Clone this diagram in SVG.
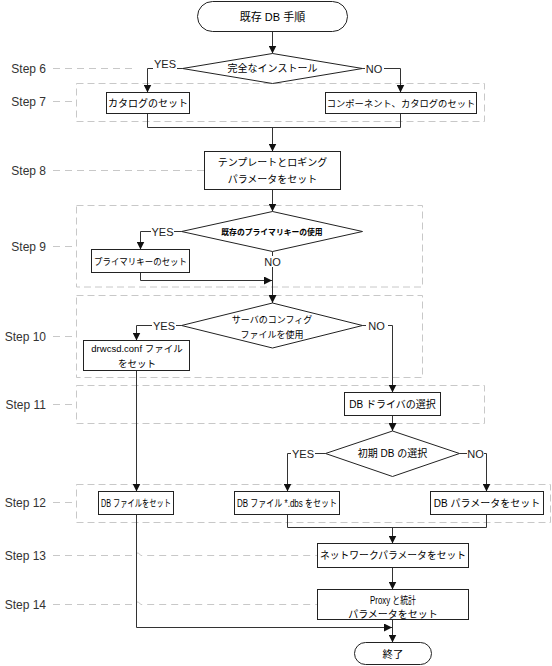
<svg xmlns="http://www.w3.org/2000/svg" width="552" height="666" viewBox="0 0 552 666">
<style>
.lane{fill:none;stroke:#c8c8c8;stroke-width:1;stroke-dasharray:7 4}
.lead{fill:none;stroke:#c8c8c8;stroke-width:1;stroke-dasharray:7 5}
.step{font-family:"Liberation Sans",Arial,sans-serif;font-size:12px;font-weight:normal;fill:#333;text-anchor:end}
.box{fill:#fff;stroke:#222;stroke-width:1}
.t{font-family:"Liberation Sans","Noto Sans CJK JP",sans-serif;font-size:10px;fill:#000;text-anchor:middle}
.c{fill:none;stroke:#333;stroke-width:1}
.lbl{font-family:"Liberation Sans",Arial,sans-serif;font-size:11px;fill:#222;text-anchor:middle}
.bg{fill:#fff;stroke:none}
</style>
<defs>
<marker id="arr" markerUnits="userSpaceOnUse" markerWidth="8" markerHeight="8" refX="8" refY="4" orient="auto">
<path d="M0,0 L8,4 L0,8 z" fill="#111"/>
</marker>
</defs>
<rect width="552" height="666" fill="#fff"/>

<g id="lanes">
<rect class="lane" x="76.5" y="83.5" width="408" height="38"/>
<rect class="lane" x="76.5" y="205.5" width="346" height="81.5"/>
<rect class="lane" x="76.5" y="295.5" width="346" height="82"/>
<rect class="lane" x="76.5" y="385.5" width="408" height="38"/>
<rect class="lane" x="76.5" y="484.5" width="474" height="38"/>
<path class="lead" d="M53,68.5 H133"/>
<path class="lead" d="M53,101.5 H76"/>
<path class="lead" d="M53,170.5 H204"/>
<path class="lead" d="M53,246.5 H76"/>
<path class="lead" d="M53,336.5 H76"/>
<path class="lead" d="M53,404.5 H76"/>
<path class="lead" d="M53,502.5 H76"/>
<path class="lead" d="M53,555.5 H132 Q136.5,550 141,555.5 H317"/>
<path class="lead" d="M53,604.5 H132 Q136.5,599 141,604.5 H317"/>
<text class="step" x="46" y="73">Step 6</text>
<text class="step" x="46" y="106">Step 7</text>
<text class="step" x="46" y="175">Step 8</text>
<text class="step" x="46" y="250.5">Step 9</text>
<text class="step" x="46" y="340.5">Step 10</text>
<text class="step" x="46" y="409">Step 11</text>
<text class="step" x="46" y="506.5">Step 12</text>
<text class="step" x="46" y="559.5">Step 13</text>
<text class="step" x="46" y="608.5">Step 14</text>
</g>

<g id="connectors">
<path class="c" d="M272.5,31.5 V53.5" marker-end="url(#arr)"/>
<path class="c" d="M182.5,68.5 H147.5 V92.5" marker-end="url(#arr)"/>
<path class="c" d="M362.5,68.5 H400.5 V92.5" marker-end="url(#arr)"/>
<path class="c" d="M147.5,113.5 V127.5 H400.5 V113.5"/>
<path class="c" d="M272.5,127.5 V151.5" marker-end="url(#arr)"/>
<path class="c" d="M272.5,189.5 V211.5" marker-end="url(#arr)"/>
<path class="c" d="M181.5,231.5 H140.5 V249.5" marker-end="url(#arr)"/>
<path class="c" d="M140.5,272.5 V280.5 H272" marker-end="url(#arr)"/>
<path class="c" d="M272.5,251.5 V303" marker-end="url(#arr)"/>
<path class="c" d="M181.5,325.5 H136.5 V340.5" marker-end="url(#arr)"/>
<path class="c" d="M362.5,325.5 H392.5 V392.5" marker-end="url(#arr)"/>
<path class="c" d="M392.5,415.5 V431" marker-end="url(#arr)"/>
<path class="c" d="M325.5,453.5 H287.5 V491.5" marker-end="url(#arr)"/>
<path class="c" d="M459.5,453.5 H486.5 V491.5" marker-end="url(#arr)"/>
<path class="c" d="M136.5,370.5 V491.5" marker-end="url(#arr)"/>
<path class="c" d="M287.5,514.5 V527.5 H486.5 V514.5"/>
<path class="c" d="M392.5,527.5 V543.5" marker-end="url(#arr)"/>
<path class="c" d="M392.5,567.5 V589.5" marker-end="url(#arr)"/>
<path class="c" d="M136.5,514.5 V627.5 H392" marker-end="url(#arr)"/>
<path class="c" d="M392.5,619.5 V642.5" marker-end="url(#arr)"/>
<rect class="bg" x="153" y="61" width="24" height="10"/>
<text class="lbl" x="165" y="68">YES</text>
<rect class="bg" x="365" y="63" width="19" height="11"/>
<text class="lbl" x="374" y="72.5">NO</text>
<rect class="bg" x="151" y="226" width="23" height="11"/>
<text class="lbl" x="162.5" y="235.5">YES</text>
<rect class="bg" x="264" y="256" width="18" height="11"/>
<text class="lbl" x="272.5" y="265.5">NO</text>
<rect class="bg" x="152" y="320" width="24" height="11"/>
<text class="lbl" x="164" y="329.5">YES</text>
<rect class="bg" x="366" y="320" width="22" height="11"/>
<text class="lbl" x="376.5" y="329.5">NO</text>
<rect class="bg" x="291" y="448" width="24" height="11"/>
<text class="lbl" x="303" y="457.5">YES</text>
<rect class="bg" x="467" y="448" width="17" height="11"/>
<text class="lbl" x="475.5" y="457.5">NO</text>
</g>

<g id="start">
<rect class="box" x="197.5" y="1.5" width="150" height="30" rx="15"/>
<text class="t" x="272.5" y="20.5" style="font-size:11px">既存 DB 手順</text>
</g>
<g id="d-full-install">
<polygon class="box" points="182.5,68.5 272.5,53.5 362.5,68.5 272.5,83.5"/>
<text class="t" x="272.5" y="72">完全なインストール</text>
</g>
<g id="set-catalog">
<rect class="box" x="106.5" y="92.5" width="83" height="21"/>
<text class="t" x="148" y="106.5">カタログのセット</text>
</g>
<g id="set-component-catalog">
<rect class="box" x="325.5" y="92.5" width="151" height="21"/>
<text class="t" x="401" y="106.5" style="font-size:9.3px">コンポーネント、カタログのセット</text>
</g>
<g id="set-template-logging">
<rect class="box" x="204.5" y="151.5" width="136" height="38"/>
<text class="t" x="272.5" y="166">テンプレートとロギング</text>
<text class="t" x="272.5" y="183">パラメータをセット</text>
</g>
<g id="d-primary-key">
<polygon class="box" points="181.5,231.5 272.5,211.5 362.5,231.5 272.5,251.5"/>
<text class="t" x="272" y="234.5" style="font-size:7.8px;font-weight:bold">既存のプライマリキーの使用</text>
</g>
<g id="set-primary-key">
<rect class="box" x="91.5" y="249.5" width="98" height="23"/>
<text class="t" x="140.5" y="264.5" style="font-size:9px" textLength="93" lengthAdjust="spacingAndGlyphs">プライマリキーのセット</text>
</g>
<g id="d-server-config">
<polygon class="box" points="181.5,325.5 272.5,303 362.5,325.5 272.5,348"/>
<text class="t" x="272" y="322.5" style="font-size:9px">サーバのコンフィグ</text>
<text class="t" x="272" y="338" style="font-size:9px">ファイルを使用</text>
</g>
<g id="set-drwcsd-conf">
<rect class="box" x="83.5" y="340.5" width="106" height="30"/>
<text class="t" x="137" y="352" style="font-size:9.5px">drwcsd.conf ファイル</text>
<text class="t" x="137" y="367" style="font-size:9.5px">をセット</text>
</g>
<g id="select-db-driver">
<rect class="box" x="344.5" y="392.5" width="96" height="23"/>
<text class="t" x="392.5" y="407.5">DB ドライバの選択</text>
</g>
<g id="d-initial-db">
<polygon class="box" points="325.5,453.5 392.5,431 459.5,453.5 392.5,476.5"/>
<text class="t" x="392.5" y="457">初期 DB の選択</text>
</g>
<g id="set-db-file">
<rect class="box" x="98.5" y="491.5" width="75" height="23"/>
<text class="t" x="136" y="506.5" textLength="70" lengthAdjust="spacingAndGlyphs">DB ファイルをセット</text>
</g>
<g id="set-db-file-dbs">
<rect class="box" x="234.5" y="491.5" width="105" height="23"/>
<text class="t" x="287" y="506.5" textLength="100" lengthAdjust="spacingAndGlyphs">DB ファイル *.dbs をセット</text>
</g>
<g id="set-db-params">
<rect class="box" x="430.5" y="491.5" width="113" height="23"/>
<text class="t" x="487" y="506.5">DB パラメータをセット</text>
</g>
<g id="set-network-params">
<rect class="box" x="317.5" y="543.5" width="151" height="24"/>
<text class="t" x="393" y="559" style="font-size:9.8px">ネットワークパラメータをセット</text>
</g>
<g id="set-proxy-stats">
<rect class="box" x="317.5" y="589.5" width="151" height="30"/>
<text class="t" x="393" y="604" textLength="46" lengthAdjust="spacingAndGlyphs">Proxy と統計</text>
<text class="t" x="393" y="617.5">パラメータをセット</text>
</g>
<g id="end">
<rect class="box" x="354.5" y="642.5" width="77" height="22" rx="11"/>
<text class="t" x="393" y="657.5" style="font-size:10.5px">終了</text>
</g>
</svg>
